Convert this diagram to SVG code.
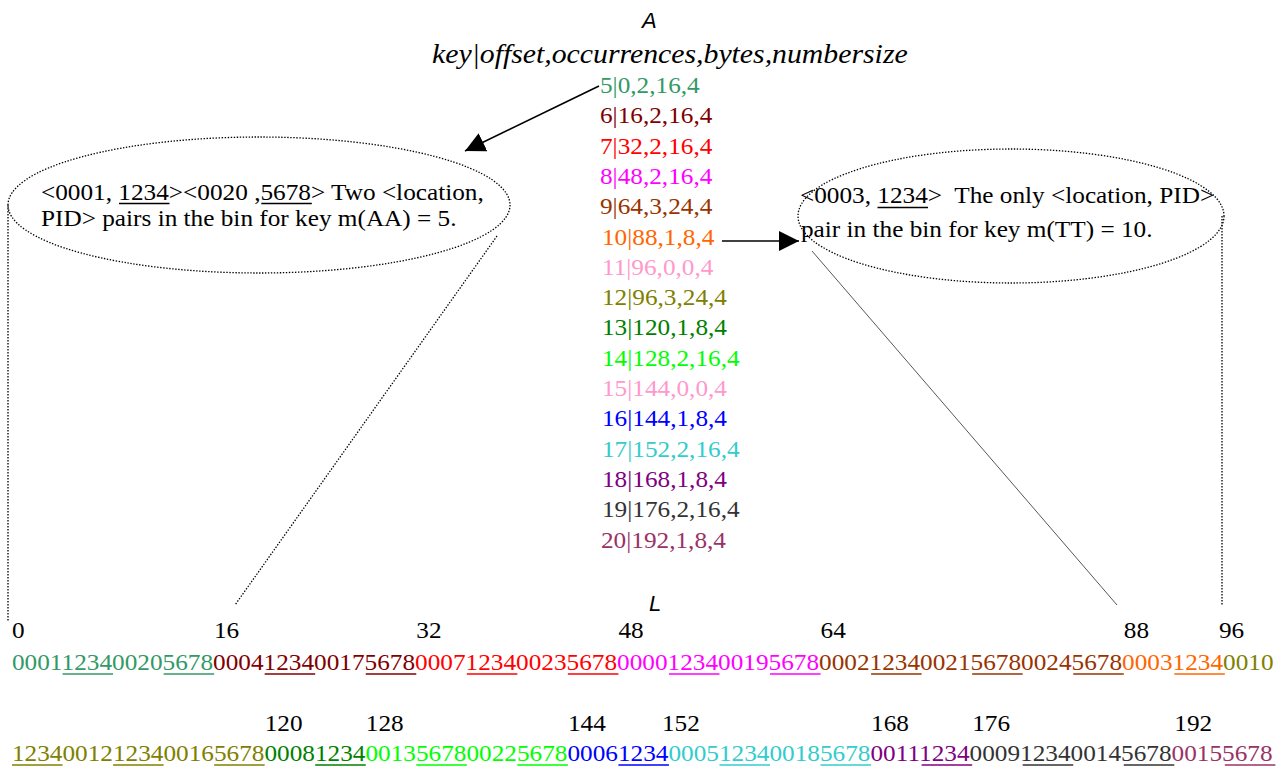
<svg xmlns="http://www.w3.org/2000/svg" width="1285" height="769" viewBox="0 0 1285 769">
<style>
.t{font-family:"Liberation Serif","Times New Roman",serif;font-size:22.4px;}
.h{font-family:"Liberation Serif","Times New Roman",serif;font-size:26.4px;font-style:italic;fill:#000;}
.s{font-family:"Liberation Sans",Arial,sans-serif;font-size:22px;font-style:italic;fill:#000;}
.k{fill:#000;}
.dot{fill:none;stroke:#000;stroke-width:1.3;stroke-dasharray:1.4 1.6;}
.arr{stroke:#000;stroke-width:1.6;fill:none;marker-end:url(#ah);}
.u{stroke-width:1.6;}
</style>
<defs>
<marker id="ah" viewBox="0 0 20 20" refX="20" refY="10" markerWidth="20" markerHeight="20" markerUnits="userSpaceOnUse" orient="auto">
<path d="M0,0 L20,10 L0,20 z" fill="#000"/>
</marker>
</defs>
<rect width="1285" height="769" fill="#fff"/>

<g id="header">
<text class="s" x="642" y="28">A</text>
<text class="h" transform="matrix(1.128 0 0 1 432 63)">key|offset,occurrences,bytes,numbersize</text>
</g>

<g id="table-A">
<text class="t" fill="#339966" transform="matrix(1.128 0 0 1 600 93)">5|0,2,16,4</text>
<text class="t" fill="#800000" transform="matrix(1.128 0 0 1 600 123.3)">6|16,2,16,4</text>
<text class="t" fill="#FF0000" transform="matrix(1.128 0 0 1 600 153.6)">7|32,2,16,4</text>
<text class="t" fill="#FF00FF" transform="matrix(1.128 0 0 1 600 183.9)">8|48,2,16,4</text>
<text class="t" fill="#993300" transform="matrix(1.128 0 0 1 600 214.2)">9|64,3,24,4</text>
<text class="t" fill="#FF6600" transform="matrix(1.128 0 0 1 602 244.5)">10|88,1,8,4</text>
<text class="t" fill="#FF99CC" transform="matrix(1.128 0 0 1 602 274.8)">11|96,0,0,4</text>
<text class="t" fill="#808000" transform="matrix(1.128 0 0 1 602 305.1)">12|96,3,24,4</text>
<text class="t" fill="#008000" transform="matrix(1.128 0 0 1 602 335.4)">13|120,1,8,4</text>
<text class="t" fill="#00FF00" transform="matrix(1.128 0 0 1 602 365.7)">14|128,2,16,4</text>
<text class="t" fill="#FF99CC" transform="matrix(1.128 0 0 1 602 396)">15|144,0,0,4</text>
<text class="t" fill="#0000FF" transform="matrix(1.128 0 0 1 602 426.3)">16|144,1,8,4</text>
<text class="t" fill="#33CCCC" transform="matrix(1.128 0 0 1 602 456.6)">17|152,2,16,4</text>
<text class="t" fill="#800080" transform="matrix(1.128 0 0 1 602 486.9)">18|168,1,8,4</text>
<text class="t" fill="#333333" transform="matrix(1.128 0 0 1 602 517.2)">19|176,2,16,4</text>
<text class="t" fill="#993366" transform="matrix(1.128 0 0 1 601 547.5)">20|192,1,8,4</text>
</g>

<g id="callout-key5">
<ellipse class="dot" cx="259" cy="205" rx="251" ry="68"/>
<text class="t k" xml:space="preserve" transform="matrix(1.128 0 0 1 41 200)">&lt;0001, 1234&gt;&lt;0020 ,5678&gt; Two &lt;location,</text>
<text class="t k" transform="matrix(1.128 0 0 1 41 226)">PID&gt; pairs in the bin for key m(AA) = 5.</text>
<line x1="119" y1="203.5" x2="169.5" y2="203.5" stroke="#000" class="u"/>
<line x1="261.3" y1="203.5" x2="311.8" y2="203.5" stroke="#000" class="u"/>
</g>

<g id="callout-key10">
<ellipse class="dot" cx="1011" cy="216" rx="213" ry="67"/>
<text class="t k" xml:space="preserve" transform="matrix(1.128 0 0 1 800 203)">&lt;0003, 1234&gt;  The only &lt;location, PID&gt;</text>
<text class="t k" transform="matrix(1.128 0 0 1 801 237)">pair in the bin for key m(TT) = 10.</text>
<line x1="877.5" y1="207.5" x2="928" y2="207.5" stroke="#000" class="u"/>
</g>

<g id="connectors">
<line class="arr" x1="599" y1="86" x2="465" y2="151"/>
<line class="arr" x1="722" y1="241" x2="799" y2="241"/>
<line class="dot" x1="8" y1="205" x2="8" y2="622"/>
<line class="dot" x1="497" y1="236" x2="235" y2="605"/>
<line class="dot" x1="1222" y1="216" x2="1222" y2="606"/>
<line x1="812" y1="251" x2="1117" y2="605" stroke="#444" stroke-width="0.9"/>
</g>

<g id="array-L">
<text class="s" x="649" y="611">L</text>
<g id="offsets-row1" class="k">
<text class="t" transform="matrix(1.128 0 0 1 12 638)">0</text>
<text class="t" transform="matrix(1.128 0 0 1 214 638)">16</text>
<text class="t" transform="matrix(1.128 0 0 1 416.3 638)">32</text>
<text class="t" transform="matrix(1.128 0 0 1 618.4 638)">48</text>
<text class="t" transform="matrix(1.128 0 0 1 820.6 638)">64</text>
<text class="t" transform="matrix(1.128 0 0 1 1123.8 638)">88</text>
<text class="t" transform="matrix(1.128 0 0 1 1219 638)">96</text>
</g>
<g id="row1" transform="matrix(1.128 0 0 1 12 670)">
<text class="t" x="0" y="0"><tspan fill="#339966">0001123400205678</tspan><tspan fill="#800000">0004123400175678</tspan><tspan fill="#FF0000">0007123400235678</tspan><tspan fill="#FF00FF">0000123400195678</tspan><tspan fill="#993300">000212340021567800245678</tspan><tspan fill="#FF6600">00031234</tspan><tspan fill="#808000">0010</tspan></text>
<g class="u">
<line x1="44.8" y1="4" x2="89.6" y2="4" stroke="#339966"/>
<line x1="134.4" y1="4" x2="179.2" y2="4" stroke="#339966"/>
<line x1="224" y1="4" x2="268.8" y2="4" stroke="#800000"/>
<line x1="313.6" y1="4" x2="358.4" y2="4" stroke="#800000"/>
<line x1="403.2" y1="4" x2="448" y2="4" stroke="#FF0000"/>
<line x1="492.8" y1="4" x2="537.6" y2="4" stroke="#FF0000"/>
<line x1="582.4" y1="4" x2="627.2" y2="4" stroke="#FF00FF"/>
<line x1="672" y1="4" x2="716.8" y2="4" stroke="#FF00FF"/>
<line x1="761.6" y1="4" x2="806.4" y2="4" stroke="#993300"/>
<line x1="851.2" y1="4" x2="896" y2="4" stroke="#993300"/>
<line x1="940.8" y1="4" x2="985.6" y2="4" stroke="#993300"/>
<line x1="1030.4" y1="4" x2="1075.2" y2="4" stroke="#FF6600"/>
</g>
</g>
<g id="offsets-row2" class="k">
<text class="t" transform="matrix(1.128 0 0 1 264.7 731)">120</text>
<text class="t" transform="matrix(1.128 0 0 1 365.8 731)">128</text>
<text class="t" transform="matrix(1.128 0 0 1 567.9 731)">144</text>
<text class="t" transform="matrix(1.128 0 0 1 662 731)">152</text>
<text class="t" transform="matrix(1.128 0 0 1 871.1 731)">168</text>
<text class="t" transform="matrix(1.128 0 0 1 972.2 731)">176</text>
<text class="t" transform="matrix(1.128 0 0 1 1174.3 731)">192</text>
</g>
<g id="row2" transform="matrix(1.128 0 0 1 12 761)">
<text class="t" x="0" y="0"><tspan fill="#808000">12340012123400165678</tspan><tspan fill="#008000">00081234</tspan><tspan fill="#00FF00">0013567800225678</tspan><tspan fill="#0000FF">00061234</tspan><tspan fill="#33CCCC">0005123400185678</tspan><tspan fill="#800080">00111234</tspan><tspan fill="#333333">0009123400145678</tspan><tspan fill="#993366">00155678</tspan></text>
<g class="u">
<line x1="0" y1="4" x2="44.8" y2="4" stroke="#808000"/>
<line x1="89.6" y1="4" x2="134.4" y2="4" stroke="#808000"/>
<line x1="179.2" y1="4" x2="224" y2="4" stroke="#808000"/>
<line x1="268.8" y1="4" x2="313.6" y2="4" stroke="#008000"/>
<line x1="358.4" y1="4" x2="403.2" y2="4" stroke="#00FF00"/>
<line x1="448" y1="4" x2="492.8" y2="4" stroke="#00FF00"/>
<line x1="537.6" y1="4" x2="582.4" y2="4" stroke="#0000FF"/>
<line x1="627.2" y1="4" x2="672" y2="4" stroke="#33CCCC"/>
<line x1="716.8" y1="4" x2="761.6" y2="4" stroke="#33CCCC"/>
<line x1="806.4" y1="4" x2="851.2" y2="4" stroke="#800080"/>
<line x1="896" y1="4" x2="940.8" y2="4" stroke="#333333"/>
<line x1="985.6" y1="4" x2="1030.4" y2="4" stroke="#333333"/>
<line x1="1075.2" y1="4" x2="1120" y2="4" stroke="#993366"/>
</g>
</g>
</g>
</svg>
